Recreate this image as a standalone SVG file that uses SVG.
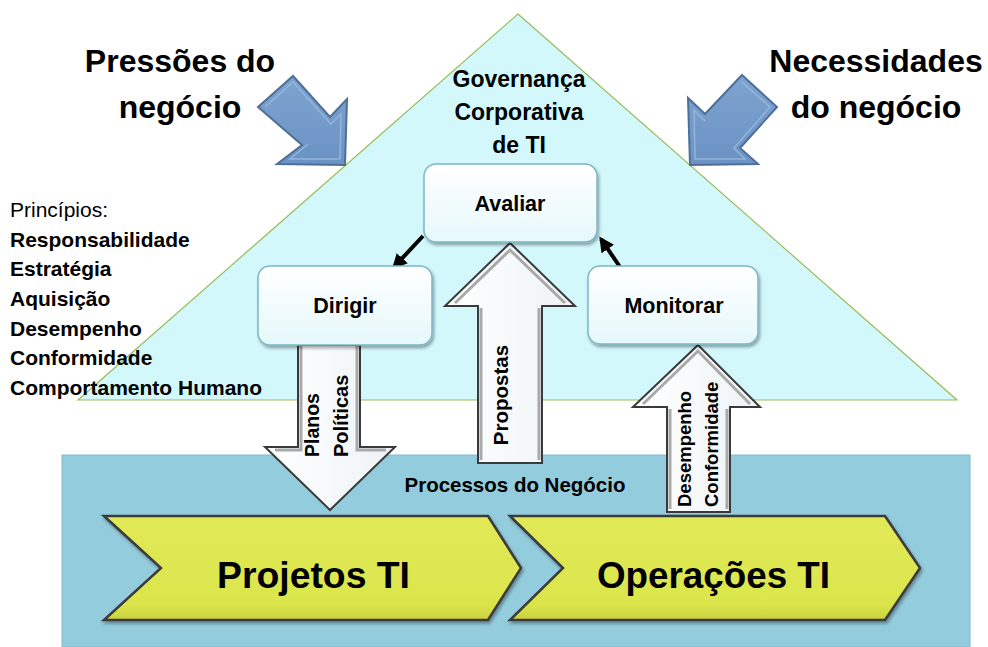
<svg xmlns="http://www.w3.org/2000/svg" width="988" height="647" viewBox="0 0 988 647">
  <defs>
    <style>
      text { font-family: "Liberation Sans", Arial, sans-serif; fill: #000; }
      .b { font-weight: bold; }
      .big { font-size: 32px; font-weight: bold; text-anchor: middle; }
      .lst { font-size: 21px; }
      .node rect { fill: url(#nodeGrad); stroke: #7bb6c6; stroke-width: 1.5; filter: url(#shadow); }
      .node text { font-size: 21.5px; font-weight: bold; text-anchor: middle; }
      .blk { fill: url(#blkGrad); stroke: #3a3a3a; stroke-width: 2; stroke-linejoin: miter; }
      .blkIn { fill: none; stroke: #a9a9a9; stroke-width: 3; }
      .atxt { font-weight: bold; }
      .blue { fill: url(#blueGrad); stroke: #4f6f98; stroke-width: 2; stroke-linejoin: miter; }
      .blueIn { fill: none; stroke: #9dbde0; stroke-width: 1.5; opacity: 0.8; }
      .chev { fill: url(#chevGrad); stroke: #3a3a3a; stroke-width: 2.5; filter: url(#shadow); }
      .chevT { font-size: 37px; font-weight: bold; text-anchor: middle; }
      .conn { stroke: #000; stroke-width: 4; fill: none; marker-end: url(#ah); }
    </style>
    <linearGradient id="nodeGrad" x1="0" y1="0" x2="0" y2="1">
      <stop offset="0" stop-color="#ffffff"/>
      <stop offset="1" stop-color="#e6f8fb"/>
    </linearGradient>
    <linearGradient id="blkGrad" x1="0" y1="0" x2="1" y2="0">
      <stop offset="0" stop-color="#ffffff"/>
      <stop offset="1" stop-color="#eef3f5"/>
    </linearGradient>
    <linearGradient id="blueGrad" x1="0" y1="0" x2="0" y2="1">
      <stop offset="0" stop-color="#7ea4d0"/>
      <stop offset="1" stop-color="#6a92c4"/>
    </linearGradient>
    <linearGradient id="chevGrad" x1="0" y1="0" x2="0" y2="1">
      <stop offset="0" stop-color="#e1ea56"/>
      <stop offset="0.85" stop-color="#dbe54c"/>
      <stop offset="1" stop-color="#c9d23e"/>
    </linearGradient>
    <filter id="shadow" x="-10%" y="-10%" width="125%" height="130%">
      <feDropShadow dx="1.5" dy="2.5" stdDeviation="1.8" flood-color="#000" flood-opacity="0.35"/>
    </filter>
    <marker id="ah" viewBox="0 0 10 10" refX="8" refY="5" markerWidth="3.8" markerHeight="3.8" orient="auto">
      <path d="M0,0 L10,5 L0,10 z" fill="#000"/>
    </marker>
  </defs>

  <rect width="988" height="647" fill="#ffffff"/>

  <!-- Governance triangle -->
  <g id="triangle">
    <polygon points="518,14 957,400 78,400" fill="#d3f8fc" stroke="#9bbb59" stroke-width="1.2"/>
    <text class="b" font-size="23" text-anchor="middle" x="519" y="87">Governança</text>
    <text class="b" font-size="23" text-anchor="middle" x="519" y="120">Corporativa</text>
    <text class="b" font-size="23" text-anchor="middle" x="519" y="153">de TI</text>
  </g>

  <!-- Business processes band -->
  <g id="processos">
    <rect x="62" y="455" width="908" height="192" fill="#93ccdc" stroke="#7fbccd" stroke-width="1"/>
    <text class="b" font-size="20.5" text-anchor="middle" x="515" y="492">Processos do Negócio</text>
  </g>

  <!-- Pressures / needs -->
  <g id="pressoes">
    <text class="big" x="180" y="72">Pressões do</text>
    <text class="big" x="180" y="118">negócio</text>
    <polygon class="blue" points="258,107 293,76 330,117 347,99 345,165 277,164 302,145"/>
    <polyline class="blueIn" points="265,107 293,82 331,124 341,114 340,159 290,159 308,144"/>
  </g>
  <g id="necessidades">
    <text class="big" x="876" y="72">Necessidades</text>
    <text class="big" x="876" y="118">do negócio</text>
    <polygon class="blue" points="742,75 777,107 740,148 758,164 690,165 688,98 705,114"/>
    <polyline class="blueIn" points="742,82 770,107 734,148 745,159 695,159 694,110 705,121"/>
  </g>

  <!-- Principles -->
  <g id="principios">
    <text class="lst" x="10" y="217">Princípios:</text>
    <text class="lst b" x="10" y="247">Responsabilidade</text>
    <text class="lst b" x="10" y="276">Estratégia</text>
    <text class="lst b" x="10" y="306">Aquisição</text>
    <text class="lst b" x="10" y="336">Desempenho</text>
    <text class="lst b" x="10" y="365">Conformidade</text>
    <text class="lst b" x="10" y="395">Comportamento Humano</text>
  </g>

  <!-- Connectors (block arrows and small arrows) -->
  <g id="connectors">
    <g id="planos-politicas">
      <polygon class="blk" points="298,345 360,345 360,447 395,447 330,510 265,447 298,447"/>
      <polyline class="blkIn" points="301,346 301,450 275,450"/>
      <polyline class="blkIn" points="357,346 357,450 386,450"/>
      <text class="atxt" font-size="19.5" transform="translate(319,457) rotate(-90)">Planos</text>
      <text class="atxt" font-size="20" transform="translate(348,457) rotate(-90)">Políticas</text>
    </g>
    <g id="propostas">
      <polygon class="blk" points="510,243 575,306 542,306 542,463 478,463 478,306 445,306"/>
      <polyline class="blkIn" points="455,303 510,250 565,303"/>
      <polyline class="blkIn" points="481,308 481,460"/>
      <polyline class="blkIn" points="539,308 539,460"/>
      <text class="atxt" font-size="20.5" text-anchor="middle" transform="translate(508,395) rotate(-90)">Propostas</text>
    </g>
    <g id="desempenho-conformidade">
      <polygon class="blk" points="698,345 760,407 730,407 730,512 667,512 667,407 633,407"/>
      <polyline class="blkIn" points="643,404 698,351 750,404"/>
      <polyline class="blkIn" points="670,409 670,509"/>
      <polyline class="blkIn" points="727,409 727,509"/>
      <text class="atxt" font-size="18.5" transform="translate(691,507) rotate(-90)">Desempenho</text>
      <text class="atxt" font-size="18.5" transform="translate(718,507) rotate(-90)">Conformidade</text>
    </g>
    <line class="conn" x1="423" y1="236" x2="394" y2="267"/>
    <line class="conn" x1="620" y1="267" x2="601" y2="239"/>
  </g>

  <!-- Governance nodes -->
  <g id="avaliar" class="node">
    <rect x="424" y="164" width="173" height="78" rx="12"/>
    <text x="510" y="211">Avaliar</text>
  </g>
  <g id="dirigir" class="node">
    <rect x="258" y="266" width="174" height="79" rx="12"/>
    <text x="345" y="313">Dirigir</text>
  </g>
  <g id="monitorar" class="node">
    <rect x="588" y="266" width="170" height="78" rx="12"/>
    <text x="674" y="313">Monitorar</text>
  </g>

  <!-- IT chevrons -->
  <g id="projetos">
    <polygon class="chev" points="104,516 488,516 521,568 488,620 104,620 161,568"/>
    <text class="chevT" x="313.5" y="588" textLength="193" lengthAdjust="spacingAndGlyphs">Projetos TI</text>
  </g>
  <g id="operacoes">
    <polygon class="chev" points="510,516 885,516 920,568 885,620 510,620 563,568"/>
    <text class="chevT" x="713.5" y="588" textLength="233" lengthAdjust="spacingAndGlyphs">Operações TI</text>
  </g>
</svg>
